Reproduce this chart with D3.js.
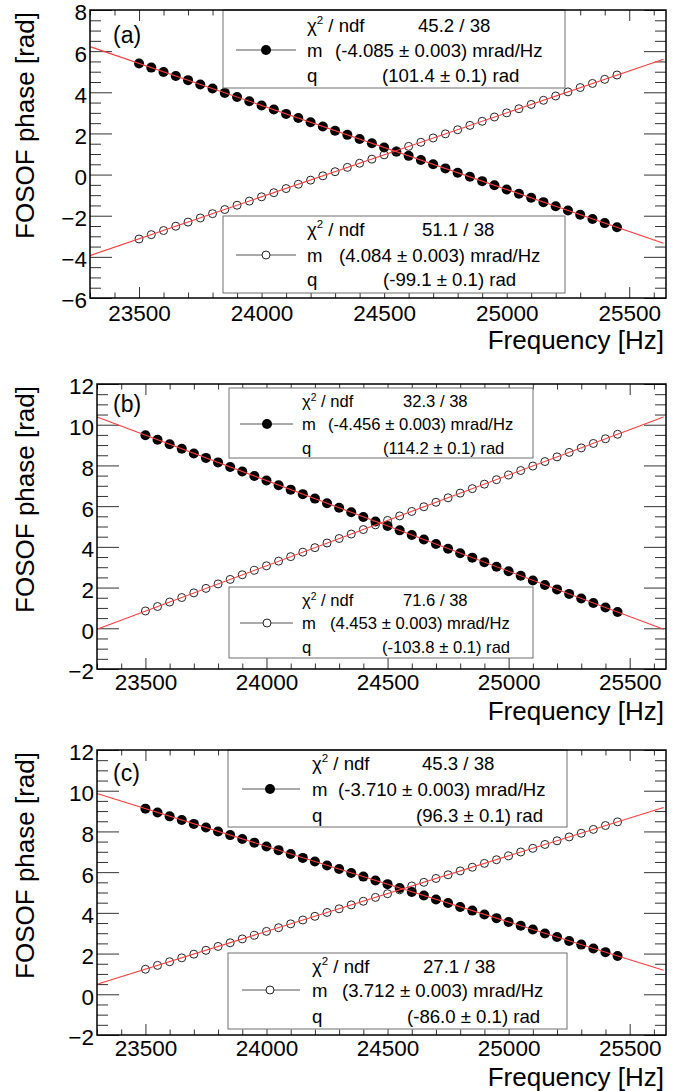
<!DOCTYPE html>
<html>
<head>
<meta charset="utf-8">
<script src="https://cdn.jsdelivr.net/npm/d3@7/dist/d3.min.js"></script>
<style>
  html, body { margin: 0; padding: 0; background: #fff; }
  svg { display: block; }
  text { font-family: "Liberation Sans", Arial, Helvetica, sans-serif; fill: #000; }
</style>
</head>
<body>
<svg id="chart" width="696" height="1091"></svg>
<script>
// ---------------- DATA ----------------
const frequencies = [23500,23550,23600,23650,23700,23750,23800,23850,23900,23950,
  24000,24050,24100,24150,24200,24250,24300,24350,24400,24450,
  24500,24550,24600,24650,24700,24750,24800,24850,24900,24950,
  25000,25050,25100,25150,25200,25250,25300,25350,25400,25450];

const aFilled = [5.40,5.20,4.99,4.79,4.59,4.38,4.18,3.97,3.77,3.56,3.36,3.16,2.95,2.75,2.54,2.34,2.13,1.93,1.73,1.52,
  1.32,1.11,0.91,0.71,0.50,0.30,0.09,-0.11,-0.32,-0.52,-0.73,-0.93,-1.13,-1.34,-1.54,-1.75,-1.95,-2.16,-2.36,-2.56];
const aOpen = [-3.13,-2.92,-2.72,-2.51,-2.31,-2.11,-1.90,-1.70,-1.49,-1.29,-1.08,-0.88,-0.68,-0.47,-0.27,-0.06,0.14,0.35,0.55,0.75,
  0.96,1.16,1.37,1.57,1.78,1.98,2.18,2.39,2.59,2.80,3.00,3.20,3.41,3.61,3.82,4.02,4.23,4.43,4.63,4.84];
const bFilled = [9.48,9.26,9.04,8.82,8.59,8.37,8.15,7.92,7.70,7.48,7.26,7.03,6.81,6.59,6.37,6.14,5.92,5.70,5.47,5.25,
  5.03,4.81,4.58,4.36,4.14,3.91,3.69,3.47,3.25,3.02,2.80,2.58,2.35,2.13,1.91,1.69,1.46,1.24,1.02,0.80];
const bOpen = [0.85,1.07,1.29,1.51,1.74,1.96,2.18,2.40,2.63,2.85,3.07,3.30,3.52,3.74,3.96,4.19,4.41,4.63,4.85,5.08,
  5.30,5.52,5.74,5.97,6.19,6.41,6.64,6.86,7.08,7.30,7.53,7.75,7.97,8.19,8.42,8.64,8.86,9.08,9.31,9.53];
const cFilled = [9.12,8.93,8.74,8.56,8.37,8.19,8.00,7.82,7.63,7.45,7.26,7.08,6.89,6.70,6.52,6.33,6.15,5.96,5.78,5.59,
  5.41,5.22,5.03,4.85,4.66,4.48,4.29,4.11,3.92,3.74,3.55,3.37,3.18,2.99,2.81,2.62,2.44,2.25,2.07,1.88];
const cOpen = [1.23,1.42,1.60,1.79,1.97,2.16,2.35,2.53,2.72,2.90,3.09,3.27,3.46,3.65,3.83,4.02,4.20,4.39,4.57,4.76,
  4.94,5.13,5.32,5.50,5.69,5.87,6.06,6.24,6.43,6.61,6.80,6.99,7.17,7.36,7.54,7.73,7.91,8.10,8.29,8.47];

// fitted straight lines (end points across the frame)
const fitFreqs = [23300, 25640];
const aFilledFit = [6.22, -3.34];
const aOpenFit = [-3.94, 5.61];
const bFilledFit = [10.38, -0.05];
const bOpenFit = [-0.05, 10.38];
const cFilledFit = [9.86, 1.18];
const cOpenFit = [0.49, 9.18];

// tick labels
const xDomain = [23300, 25650];
const xTicks = [23500, 24000, 24500, 25000, 25500];
const yTicksA = [-6, -4, -2, 0, 2, 4, 6, 8];
const yTicksBC = [-2, 0, 2, 4, 6, 8, 10, 12];

// legend texts
const statLabels = ["ndf", "m", "q"];
const aFilledStats = ["45.2 / 38", "(-4.085 \u00b1 0.003) mrad/Hz", "(101.4 \u00b1 0.1) rad"];
const aOpenStats = ["51.1 / 38", "(4.084 \u00b1 0.003) mrad/Hz", "(-99.1 \u00b1 0.1) rad"];
const bFilledStats = ["32.3 / 38", "(-4.456 \u00b1 0.003) mrad/Hz", "(114.2 \u00b1 0.1) rad"];
const bOpenStats = ["71.6 / 38", "(4.453 \u00b1 0.003) mrad/Hz", "(-103.8 \u00b1 0.1) rad"];
const cFilledStats = ["45.3 / 38", "(-3.710 \u00b1 0.003) mrad/Hz", "(96.3 \u00b1 0.1) rad"];
const cOpenStats = ["27.1 / 38", "(3.712 \u00b1 0.003) mrad/Hz", "(-86.0 \u00b1 0.1) rad"];

const panelLabels = ["(a)", "(b)", "(c)"];
const xTitle = "Frequency [Hz]";
const yTitle = "FOSOF phase [rad]";

// ---------------- DRAWING ----------------
const svg = d3.select("#chart");
svg.append("rect").attr("width", 696).attr("height", 1091).attr("fill", "#fff");

const fmtY = d => (d < 0 ? "\u2212" + Math.abs(d) : String(d));
const R_FILLED = 5.0, R_OPEN = 4.0;

function drawLegend(g, L, stats, filled) {
  const lg = g.append("g");
  lg.append("rect")
    .attr("x", L.box[0]).attr("y", L.box[1])
    .attr("width", L.box[2] - L.box[0]).attr("height", L.box[3] - L.box[1])
    .attr("fill", "#fff").attr("stroke", "#6e6e6e").attr("stroke-width", 1);
  lg.append("line")
    .attr("x1", L.line[0]).attr("x2", L.line[1])
    .attr("y1", L.rows[1]).attr("y2", L.rows[1])
    .attr("stroke", "#555").attr("stroke-width", 1);
  lg.append("circle")
    .attr("cx", L.marker).attr("cy", L.rows[1])
    .attr("r", filled ? R_FILLED : R_OPEN)
    .attr("fill", filled ? "#000" : "#fff")
    .attr("stroke", filled ? "none" : "#222").attr("stroke-width", 1);
  // chi2 label
  const t0 = lg.append("text").attr("x", L.label).attr("y", L.rows[0])
    .attr("dy", "0.35em").attr("font-size", L.fs);
  t0.append("tspan").text("\u03c7");
  t0.append("tspan").text("2").attr("font-size", L.fs * 0.62).attr("dy", -L.fs * 0.38);
  t0.append("tspan").text(" / " + statLabels[0]).attr("dy", L.fs * 0.38);
  lg.append("text").attr("x", L.label).attr("y", L.rows[1]).attr("dy", "0.35em")
    .attr("font-size", L.fs).text(statLabels[1]);
  lg.append("text").attr("x", L.label).attr("y", L.rows[2]).attr("dy", "0.35em")
    .attr("font-size", L.fs).text(statLabels[2]);
  stats.forEach((s, i) => {
    lg.append("text").attr("x", L.vals[i]).attr("y", L.rows[i]).attr("dy", "0.35em")
      .attr("font-size", L.fs).text(s);
  });
}

function drawPanel(cfg) {
  const g = svg.append("g");
  const x = d3.scaleLinear().domain(xDomain).range([cfg.x0, cfg.x1]);
  const y = d3.scaleLinear().domain(cfg.yDomain).range([cfg.y1, cfg.y0]);

  const xMinor = d3.range(23300, 25651, 100).filter(v => !xTicks.includes(v));
  const yMinor = d3.range(cfg.yDomain[0], cfg.yDomain[1] + 0.01, 0.5).filter(v => !cfg.yTicks.includes(v));

  const styleAxis = sel => {
    sel.select(".domain").remove();
    sel.selectAll(".tick line").attr("stroke", "#333").attr("stroke-width", 1);
  };

  // bottom axis
  g.append("g").attr("transform", `translate(0,${cfg.y1})`)
    .call(d3.axisBottom(x).tickValues(xTicks).tickSize(-11).tickPadding(cfg.tickPad).tickFormat(d3.format("d")))
    .call(styleAxis)
    .call(s => s.selectAll("text").attr("font-size", 22.5).attr("font-family", "Liberation Sans, Arial, sans-serif").attr("fill", "#000"));
  g.append("g").attr("transform", `translate(0,${cfg.y1})`)
    .call(d3.axisBottom(x).tickValues(xMinor).tickSize(-5.5).tickFormat(""))
    .call(styleAxis);
  // top axis
  g.append("g").attr("transform", `translate(0,${cfg.y0})`)
    .call(d3.axisTop(x).tickValues(xTicks).tickSize(-11).tickFormat(""))
    .call(styleAxis);
  g.append("g").attr("transform", `translate(0,${cfg.y0})`)
    .call(d3.axisTop(x).tickValues(xMinor).tickSize(-5.5).tickFormat(""))
    .call(styleAxis);
  // left axis
  g.append("g").attr("transform", `translate(${cfg.x0},0)`)
    .call(d3.axisLeft(y).tickValues(cfg.yTicks).tickSize(-22).tickPadding(3).tickFormat(fmtY))
    .call(styleAxis)
    .call(s => s.selectAll("text").attr("font-size", 22.5).attr("dy", "0.44em")
      .attr("font-family", "Liberation Sans, Arial, sans-serif").attr("fill", "#000"));
  g.append("g").attr("transform", `translate(${cfg.x0},0)`)
    .call(d3.axisLeft(y).tickValues(yMinor).tickSize(-11).tickFormat(""))
    .call(styleAxis);
  // right axis
  g.append("g").attr("transform", `translate(${cfg.x1},0)`)
    .call(d3.axisRight(y).tickValues(cfg.yTicks).tickSize(-22).tickFormat(""))
    .call(styleAxis);
  g.append("g").attr("transform", `translate(${cfg.x1},0)`)
    .call(d3.axisRight(y).tickValues(yMinor).tickSize(-11).tickFormat(""))
    .call(styleAxis);

  // data markers
  g.append("g").selectAll("circle").data(cfg.filled).join("circle")
    .attr("cx", (d, i) => x(frequencies[i])).attr("cy", d => y(d))
    .attr("r", R_FILLED).attr("fill", "#000");
  g.append("g").selectAll("circle").data(cfg.open).join("circle")
    .attr("cx", (d, i) => x(frequencies[i])).attr("cy", d => y(d))
    .attr("r", R_OPEN).attr("fill", "none").attr("stroke", "#222").attr("stroke-width", 1);

  // fit lines
  const line = d3.line().x((d, i) => x(fitFreqs[i])).y(d => y(d));
  [cfg.filledFit, cfg.openFit].forEach(f => {
    g.append("path").datum(f).attr("d", line)
      .attr("fill", "none").attr("stroke", "#ff3b3b").attr("stroke-width", 1.1);
  });

  // legends
  drawLegend(g, cfg.legTop, cfg.filledStats, true);
  drawLegend(g, cfg.legBot, cfg.openStats, false);

  // frame
  g.append("rect").attr("x", cfg.x0).attr("y", cfg.y0)
    .attr("width", cfg.x1 - cfg.x0).attr("height", cfg.y1 - cfg.y0)
    .attr("fill", "none").attr("stroke", "#000").attr("stroke-width", 1.5);

  // panel label
  g.append("text").attr("x", 113).attr("y", cfg.labelY).attr("font-size", 23).text(cfg.label);

  // axis titles
  g.append("text").attr("x", 664).attr("y", cfg.y1 + cfg.xTitleDy)
    .attr("text-anchor", "end").attr("font-size", 26).text(xTitle);
  g.append("text").attr("transform", `translate(34,${cfg.y0 + 2}) rotate(-90)`)
    .attr("text-anchor", "end").attr("font-size", 26).text(yTitle);
}

drawPanel({
  x0: 90, x1: 666, y0: 10, y1: 298, yDomain: [-6, 8], yTicks: yTicksA,
  filled: aFilled, open: aOpen, filledFit: aFilledFit, openFit: aOpenFit,
  filledStats: aFilledStats, openStats: aOpenStats,
  legTop: { box: [223, 10, 565, 88], line: [236, 296], marker: 266, label: 307, rows: [25, 50, 75], vals: [418, 335, 382], fs: 18.6 },
  legBot: { box: [223, 216, 565, 293], line: [236, 296], marker: 266, label: 307, rows: [229, 255, 279], vals: [422, 339, 383], fs: 18.6 },
  label: panelLabels[0], labelY: 43, xTitleDy: 51, tickPad: 7
});
drawPanel({
  x0: 97, x1: 666, y0: 384, y1: 669, yDomain: [-2, 12], yTicks: yTicksBC,
  filled: bFilled, open: bOpen, filledFit: bFilledFit, openFit: bOpenFit,
  filledStats: bFilledStats, openStats: bOpenStats,
  legTop: { box: [229, 388, 533, 458], line: [240, 293], marker: 267, label: 302, rows: [401, 424, 448], vals: [403, 328, 383], fs: 16.6 },
  legBot: { box: [229, 587, 533, 658], line: [240, 293], marker: 267, label: 302, rows: [600, 623, 647], vals: [403, 330, 382], fs: 16.6 },
  label: panelLabels[1], labelY: 412, xTitleDy: 51, tickPad: 5.5
});
drawPanel({
  x0: 97, x1: 666, y0: 750, y1: 1035, yDomain: [-2, 12], yTicks: yTicksBC,
  filled: cFilled, open: cOpen, filledFit: cFilledFit, openFit: cOpenFit,
  filledStats: cFilledStats, openStats: cOpenStats,
  legTop: { box: [228, 750, 567, 827], line: [242, 300], marker: 270, label: 312, rows: [763, 789, 815], vals: [422, 338, 416], fs: 18.6 },
  legBot: { box: [228, 953, 567, 1029], line: [242, 300], marker: 270, label: 312, rows: [966, 990, 1016], vals: [423, 342, 407], fs: 18.6 },
  label: panelLabels[2], labelY: 781, xTitleDy: 51, tickPad: 5.5
});
</script>
</body>
</html>
